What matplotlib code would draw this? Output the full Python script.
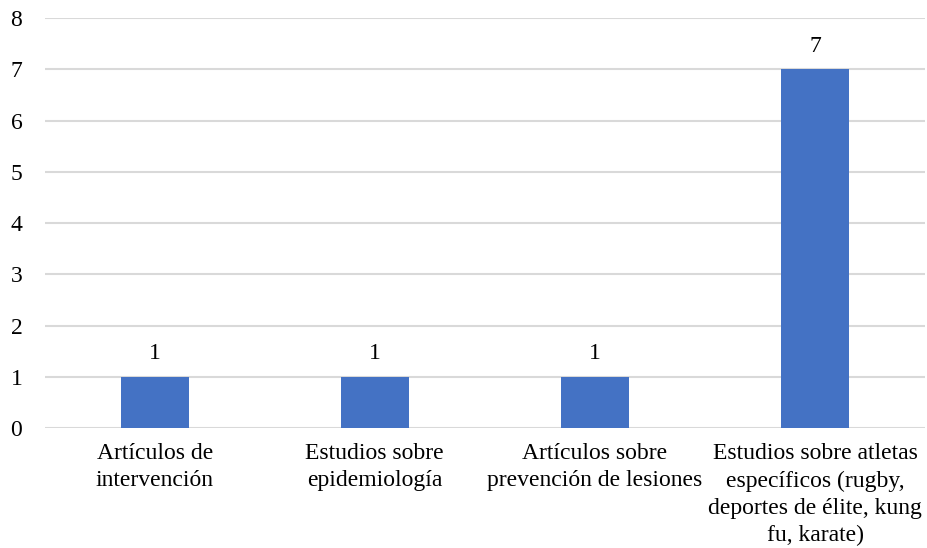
import matplotlib
matplotlib.use('Agg')
import matplotlib.pyplot as plt
import numpy as np

categories = ['Artículos de\nintervención',
              'Estudios sobre\nepidemiología',
              'Artículos sobre\nprevención de lesiones',
              'Estudios sobre atletas\nespecíficos (rugby,\ndeportes de élite, kung\nfu, karate)']
values = [1, 1, 1, 7]
yticks = list(range(0, 9))

plt.rcParams['font.family'] = ['Liberation Serif', 'DejaVu Serif']

fig = plt.figure(figsize=(9.28, 5.48), dpi=100)
ax = fig.add_axes([0.048, 0.219, 0.949, 0.748])

x = np.arange(len(categories))
bars = ax.bar(x, values, width=0.31, color='#4472C4', zorder=3)
for b, v in zip(bars, values):
    ax.text(b.get_x() + b.get_width() / 2, v + 0.25, str(v),
            ha='center', va='bottom', fontsize=17, color='#000000')

ax.set_xlim(-0.5, len(categories) - 0.5)
ax.set_ylim(0, 8)
ax.set_yticks(yticks)
ax.set_yticklabels([str(t) for t in yticks], fontsize=17)
ax.set_xticks(x)
ax.set_xticklabels(categories, fontsize=17, linespacing=1.38)
ax.grid(axis='y', color='#D9D9D9', linewidth=1.5, zorder=0)
for s in ax.spines.values():
    s.set_visible(False)
ax.tick_params(axis='both', length=0)
ax.tick_params(axis='y', pad=16)
ax.tick_params(axis='x', pad=11)

fig.savefig('out.png', dpi=100)
